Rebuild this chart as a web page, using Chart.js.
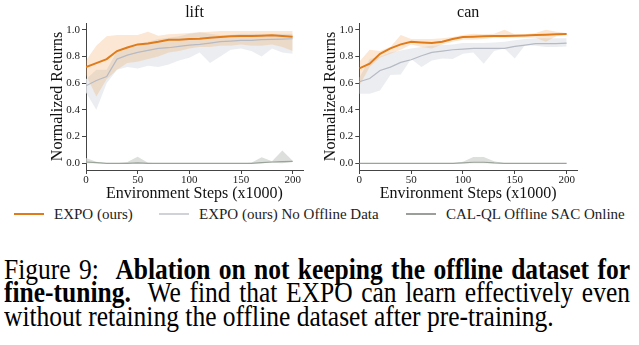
<!DOCTYPE html>
<html>
<head>
<meta charset="utf-8">
<script src="https://cdn.jsdelivr.net/npm/chart.js@4.4.1/dist/chart.umd.min.js"></script>
<style>
  body { margin: 0; background: #fff; width: 639px; height: 345px; overflow: hidden; position: relative; font-family: "Liberation Serif", serif; }
  #liftChart { position: absolute; left: 0; top: 0; }
  #canChart { position: absolute; left: 315px; top: 0; }
  .item { position: absolute; top: 205px; height: 18px; display: flex; align-items: center; font-size: 15px; color: #222; white-space: nowrap; }
  .swatch { width: 30px; height: 2px; margin-right: 10px; }
  .caption { position: absolute; left: 4px; top: 258px; width: 626px; font-size: 25.5px; line-height: 20.4px; color: #000;
             transform: scaleY(1.15); transform-origin: 0 0; }
  .caption div { text-align: justify; text-align-last: justify; }
  .caption div.last { text-align-last: left; }
</style>
</head>
<body>
<canvas id="liftChart" width="315" height="205"></canvas>
<canvas id="canChart" width="324" height="205"></canvas>

<div class="item" style="left:14px"><span class="swatch" style="background:#e07b1a"></span>EXPO (ours)</div>
<div class="item" style="left:159px"><span class="swatch" style="background:#cfd2d8"></span>EXPO (ours) No Offline Data</div>
<div class="item" style="left:406px"><span class="swatch" style="background:#9a9f9a"></span>CAL-QL Offline SAC Online</div>

<div class="caption">
  <div>Figure 9:&nbsp; <b>Ablation on not keeping the offline dataset for</b></div>
  <div><b>fine-tuning.</b>&nbsp; We find that EXPO can learn effectively even</div>
  <div class="last">without retaining the offline dataset after pre-training.</div>
</div>

<script>
const steps = [0, 10, 20, 30, 40, 50, 60, 70, 80, 90, 100, 110, 120, 130, 140, 150, 160, 170, 180, 190, 200];
const xTicks = [0, 50, 100, 150, 200];
const yTicks = [0, 0.2, 0.4, 0.6, 0.8, 1.0];

// lift
const liftExpo   = [0.72, 0.75, 0.78, 0.84, 0.867, 0.89, 0.897, 0.91, 0.925, 0.925, 0.93, 0.932, 0.94, 0.945, 0.95, 0.952, 0.952, 0.955, 0.958, 0.953, 0.948];
const liftExpoHi = [0.77, 0.88, 0.95, 0.96, 0.96, 0.96, 0.985, 0.955, 0.965, 0.97, 0.975, 0.98, 0.985, 0.99, 0.99, 0.99, 0.99, 0.99, 0.99, 0.99, 0.99];
const liftExpoLo = [0.66, 0.50, 0.63, 0.70, 0.75, 0.76, 0.78, 0.80, 0.83, 0.84, 0.86, 0.87, 0.87, 0.88, 0.88, 0.89, 0.88, 0.88, 0.89, 0.87, 0.84];
const liftNoOff   = [0.58, 0.62, 0.65, 0.78, 0.81, 0.83, 0.845, 0.86, 0.865, 0.875, 0.885, 0.89, 0.90, 0.91, 0.915, 0.92, 0.92, 0.925, 0.928, 0.93, 0.932];
const liftNoOffHi = [0.63, 0.70, 0.70, 0.84, 0.87, 0.89, 0.91, 0.93, 0.94, 0.95, 0.97, 0.98, 0.97, 0.96, 0.96, 0.97, 0.97, 0.97, 0.97, 0.97, 0.97];
const liftNoOffLo = [0.53, 0.40, 0.60, 0.70, 0.72, 0.71, 0.73, 0.72, 0.74, 0.77, 0.79, 0.83, 0.75, 0.80, 0.85, 0.86, 0.84, 0.80, 0.86, 0.83, 0.82];
const liftCal   = [0.01, 0.005, 0, 0, 0, 0.003, 0, 0, 0, 0, 0, 0, 0, 0, 0, 0, 0, 0.005, 0.01, 0.012, 0.015];
const liftCalHi = [0.04, 0.012, 0, 0, 0.01, 0.05, 0.005, 0, 0, 0, 0, 0, 0, 0, 0, 0, 0.005, 0.045, 0.015, 0.095, 0.02];
const liftCalLo = [0, 0, 0, 0, 0, 0, 0, 0, 0, 0, 0, 0, 0, 0, 0, 0, 0, 0, 0.005, 0, 0.01];

// can
const canExpo   = [0.71, 0.745, 0.82, 0.86, 0.89, 0.91, 0.905, 0.90, 0.91, 0.93, 0.945, 0.947, 0.95, 0.952, 0.953, 0.955, 0.957, 0.96, 0.963, 0.966, 0.968];
const canExpoHi = [0.76, 0.85, 0.84, 0.87, 0.96, 0.93, 0.93, 0.93, 0.935, 0.945, 0.96, 0.97, 0.965, 0.97, 1.0, 0.965, 0.965, 0.975, 1.0, 0.985, 0.975];
const canExpoLo = [0.58, 0.72, 0.79, 0.82, 0.85, 0.89, 0.87, 0.86, 0.89, 0.91, 0.925, 0.925, 0.93, 0.94, 0.935, 0.94, 0.94, 0.94, 0.91, 0.95, 0.96];
const canNoOff   = [0.61, 0.635, 0.695, 0.72, 0.755, 0.775, 0.805, 0.83, 0.84, 0.85, 0.855, 0.86, 0.86, 0.86, 0.86, 0.875, 0.885, 0.895, 0.895, 0.895, 0.9];
const canNoOffHi = [0.64, 0.78, 0.80, 0.83, 0.845, 0.86, 0.87, 0.88, 0.885, 0.89, 0.90, 0.90, 0.90, 0.905, 0.91, 0.92, 0.93, 0.935, 0.935, 0.935, 0.935];
const canNoOffLo = [0.52, 0.52, 0.545, 0.66, 0.665, 0.78, 0.72, 0.77, 0.785, 0.78, 0.82, 0.83, 0.745, 0.84, 0.86, 0.785, 0.885, 0.88, 0.87, 0.87, 0.875];
const canCal   = [0, 0, 0, 0, 0, 0, 0, 0, 0, 0, 0.004, 0.008, 0.008, 0.003, 0, 0, 0, 0, 0, 0, 0];
const canCalHi = [0, 0, 0, 0, 0, 0, 0, 0, 0, 0, 0.012, 0.047, 0.047, 0.015, 0, 0, 0, 0, 0, 0, 0];
const canCalLo = [0, 0, 0, 0, 0, 0, 0, 0, 0, 0, 0, 0, 0, 0, 0, 0, 0, 0, 0, 0, 0];

const serif = '"Liberation Serif", serif';
const pts = arr => steps.map((x, i) => ({ x: x, y: arr[i] }));

function line(arr, color, width) {
  return { data: pts(arr), borderColor: color, borderWidth: width, pointRadius: 0, tension: 0, fill: false, order: 0 };
}
function band(hi, lo, color, order) {
  return [
    { data: pts(hi), borderWidth: 0, pointRadius: 0, tension: 0, backgroundColor: color, fill: '+1', order: order },
    { data: pts(lo), borderWidth: 0, pointRadius: 0, tension: 0, fill: false, order: order }
  ];
}

function makeChart(id, name, pad, yWidth, yTitleTop, d) {
  return new Chart(document.getElementById(id), {
    type: 'line',
    data: {
      datasets: [
        line(d.expo, '#e07b1a', 2),
        line(d.noOff, '#b6bac4', 1.2),
        line(d.cal, '#9aa49a', 1.2),
        ...band(d.expoHi, d.expoLo, 'rgba(240,170,100,0.28)', 1),
        ...band(d.noOffHi, d.noOffLo, 'rgba(230,232,236,0.8)', 2),
        ...band(d.calHi, d.calLo, 'rgba(208,212,208,0.75)', 3)
      ]
    },
    options: {
      responsive: false,
      animation: false,
      layout: { padding: { left: pad.left, right: pad.right, top: 0, bottom: 0 } },
      plugins: {
        legend: { display: false },
        tooltip: { enabled: false },
        title: {
          display: true, text: name, fullSize: false, color: '#111',
          font: { family: serif, size: 16, weight: 'normal' },
          padding: { top: 3, bottom: 0.8 }
        }
      },
      scales: {
        x: {
          type: 'linear', min: 0, max: 210,
          afterBuildTicks: s => { s.ticks = xTicks.map(v => ({ value: v })); },
          afterFit: s => { s.height = 35; },
          grid: { drawOnChartArea: false, drawTicks: true, tickLength: 4, color: '#444' },
          border: { color: '#444', width: 1 },
          ticks: { font: { family: serif, size: 11 }, color: '#222', padding: 0, maxRotation: 0 },
          title: { display: true, text: 'Environment Steps (x1000)', color: '#111',
                   font: { family: serif, size: 16 }, padding: { top: 0, bottom: 2 } }
        },
        y: {
          min: -0.05, max: 1.05,
          afterBuildTicks: s => { s.ticks = yTicks.map(v => ({ value: v })); },
          afterFit: s => { s.width = yWidth; },
          grid: { drawOnChartArea: false, drawTicks: true, tickLength: 4, color: '#444' },
          border: { color: '#444', width: 1 },
          ticks: { font: { family: serif, size: 11 }, color: '#222', padding: 2,
                   callback: v => v.toFixed(1) },
          title: { display: true, text: 'Normalized Returns', color: '#111',
                   font: { family: serif, size: 16 }, padding: { top: yTitleTop, bottom: 0 } }
        }
      }
    }
  });
}

makeChart('liftChart', 'lift', { left: 40, right: 12 }, 46, 8.4, {
  expo: liftExpo, expoHi: liftExpoHi, expoLo: liftExpoLo,
  noOff: liftNoOff, noOffHi: liftNoOffHi, noOffLo: liftNoOffLo,
  cal: liftCal, calHi: liftCalHi, calLo: liftCalLo
});
makeChart('canChart', 'can', { left: 0, right: 62 }, 44.3, 6.4, {
  expo: canExpo, expoHi: canExpoHi, expoLo: canExpoLo,
  noOff: canNoOff, noOffHi: canNoOffHi, noOffLo: canNoOffLo,
  cal: canCal, calHi: canCalHi, calLo: canCalLo
});
</script>
</body>
</html>
